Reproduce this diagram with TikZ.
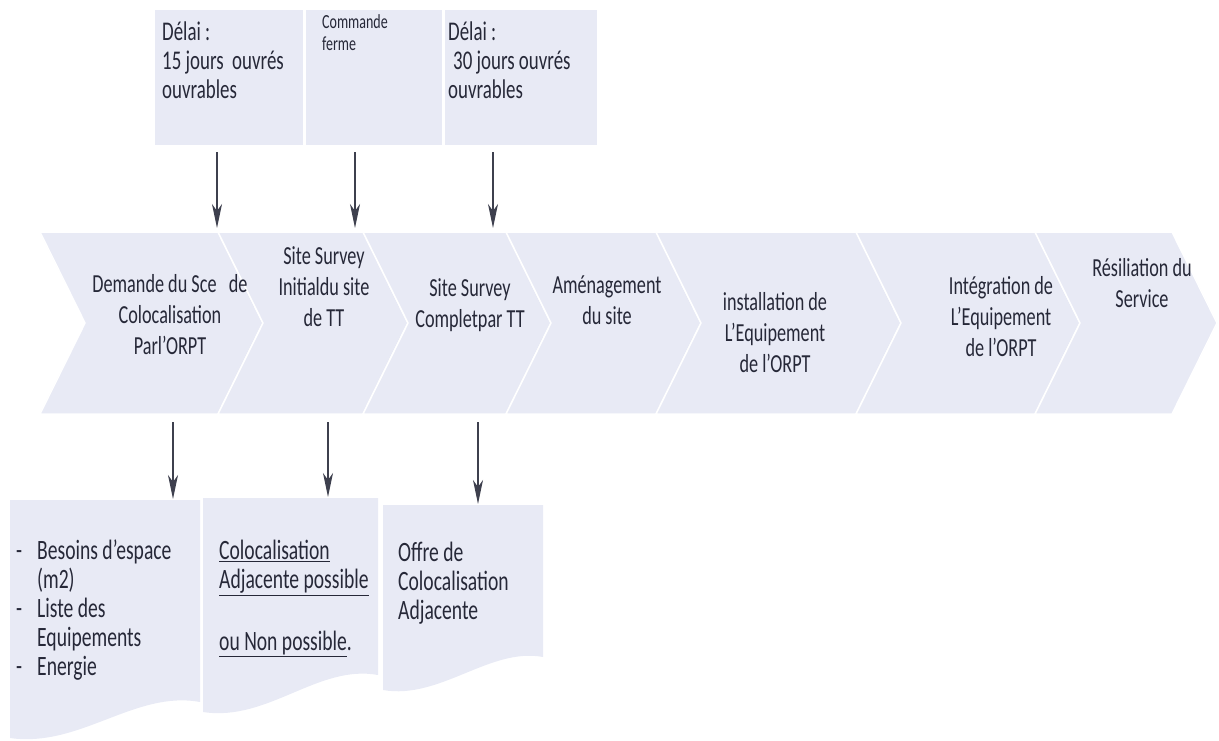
\documentclass[tikz,border=0pt]{standalone}
\usepackage{fontspec}
\setmainfont[FakeStretch=0.7]{Carlito}
\usetikzlibrary{arrows.meta}
\definecolor{paleblue}{RGB}{232,234,245}
\definecolor{arrowgray}{RGB}{62,64,78}
\definecolor{inkgray}{RGB}{38,40,56}
\begin{document}
\begin{tikzpicture}[x=1pt,y=-1pt,
    panel/.style={fill=paleblue,draw=none,inner sep=0pt},
    chevron/.style={fill=paleblue,draw=white,line width=1.5pt,line join=miter},
    stagetext/.style={text=inkgray,font=\fontsize{26}{31}\selectfont,align=center,inner sep=0pt},
    infotext/.style={text=inkgray,font=\fontsize{27}{29}\selectfont,align=left,anchor=north west,inner sep=0pt},
    listtext/.style={text=inkgray,font=\fontsize{28}{29}\selectfont,align=left,anchor=north west,inner sep=0pt},
    arr/.style={arrowgray,line width=1.8pt,-{Stealth[length=24pt,width=10pt,inset=7pt]}}]
        \useasboundingbox (0,0) rectangle (1219,740);

        % Top boxes
        \node[panel,minimum width=148,minimum height=135] (box1) at (229,77.5) {};
        \node[panel,minimum width=136,minimum height=135] (box2) at (374,77.5) {};
        \node[panel,minimum width=152,minimum height=135] (box3) at (521,77.5) {};
        \node[infotext] (delai1) at (162,22) {Délai :\\15 jours\ \ ouvrés\\ouvrables};
        \node[infotext,font=\fontsize{20}{22}\selectfont] (commande) at (322,14) {Commande\\ferme};
        \node[infotext] (delai2) at (448,22) {Délai :\\\hspace{5pt}30 jours ouvrés\\ouvrables};

        % Chevron band
        \foreach \l/\r in {40/218,218/363,363/506,506/656,656/856,856/1035,1035/1172}
            \draw[chevron] (\l,232) -- (\r,232) -- (\r+45,323) -- (\r,414) -- (\l,414) -- (\l+45,323) -- cycle;

        \node[stagetext] (demande) at (170,315) {Demande du Sce\ \ \ de\\Colocalisation\\Parl’ORPT};
        \node[stagetext] (initial) at (324,287) {Site Survey\\Initialdu site\\de TT};
        \node[stagetext] (complet) at (470,305) {Site Survey\\Completpar TT};
        \node[stagetext] (amenag) at (607,300) {Aménagement\\du site};
        \node[stagetext] (install) at (775,333) {installation de\\L’Equipement\\de l’ORPT};
        \node[stagetext] (integr) at (1001,317) {Intégration de\\L’Equipement\\de l’ORPT};
        \node[stagetext] (resil) at (1142,283) {Résiliation du\\Service};

        % Arrows into the band
        \foreach \i/\x in {1/217,2/355,3/493} {
            \coordinate (in\i) at (\x,228);
            \draw[arr,shorten <=7pt] (box\i.south -| in\i) -- (in\i);
        }

        % Bottom boxes
        \fill[paleblue] (10,500) -- (200,500) -- (200,702) .. controls (135,690) and (80,748) .. (10,738) -- cycle;
        \fill[paleblue] (203,498) -- (378,498) -- (378,675) .. controls (318,664) and (268,722) .. (203,712) -- cycle;
        \fill[paleblue] (383,505) -- (543,505) -- (543,657) .. controls (490,647) and (440,700) .. (383,690) -- cycle;

        \node[listtext] (besoins) at (16,540) {\makebox[21pt][l]{-}Besoins d’espace\\\hspace{21pt}(m2)\\\makebox[21pt][l]{-}Liste des\\\hspace{21pt}Equipements\\\makebox[21pt][l]{-}Energie};
        \node[listtext] (adjac) at (219,540) {\underline{Colocalisation}\\\underline{Adjacente possible}\\[33pt]\underline{ou Non possible}.};
        \node[listtext] (offre) at (398,542) {Offre de\\Colocalisation\\Adjacente};

        % Arrows out of the band
        \foreach \i/\x/\y in {1/173/499,2/328/497,3/478/504} {
            \coordinate (out\i) at (\x,422);
            \coordinate (doc\i) at (\x,\y);
            \draw[arr] (out\i) -- (doc\i);
        }
\end{tikzpicture}
\end{document}
